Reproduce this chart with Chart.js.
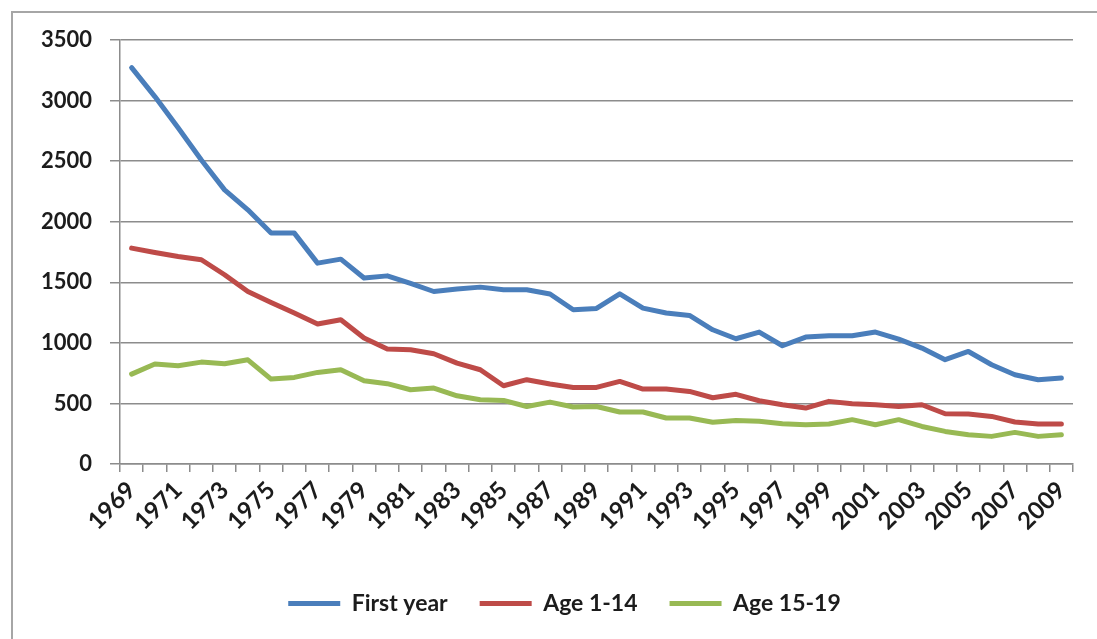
<!DOCTYPE html>
<html>
<head>
<meta charset="utf-8">
<script src="https://cdn.jsdelivr.net/npm/chart.js@4/dist/chart.umd.min.js"></script>
<style>
  html, body { margin: 0; padding: 0; background: #ffffff; }
  #wrap { position: relative; width: 1097px; height: 639px; overflow: hidden; }
  #frame { position: absolute; left: 11px; top: 11px; width: 1200px; height: 800px;
           border-left: 2px solid #a6a6a6; border-top: 2px solid #a6a6a6; }
  canvas { position: absolute; left: 0; top: 0; }
</style>
</head>
<body>
<div id="wrap">
  <div id="frame"></div>
  <canvas id="chart" width="1097" height="639"></canvas>
</div>
<script>
// Years on the category axis
const years = [
  1969, 1970, 1971, 1972, 1973, 1974, 1975, 1976, 1977, 1978,
  1979, 1980, 1981, 1982, 1983, 1984, 1985, 1986, 1987, 1988,
  1989, 1990, 1991, 1992, 1993, 1994, 1995, 1996, 1997, 1998,
  1999, 2000, 2001, 2002, 2003, 2004, 2005, 2006, 2007, 2008, 2009
];

// Deaths per year, by age group
const firstYear = [
  3272, 3033, 2775, 2510, 2263, 2098, 1906, 1906, 1658, 1691,
  1535, 1553, 1490, 1424, 1444, 1460, 1438, 1438, 1403, 1273,
  1284, 1405, 1287, 1246, 1226, 1108, 1034, 1089, 976, 1048,
  1059, 1059, 1089, 1031, 957, 861, 929, 819, 737, 696, 710
];
const age1to14 = [
  1782, 1746, 1713, 1686, 1562, 1424, 1333, 1246, 1155, 1191,
  1040, 949, 943, 910, 833, 778, 646, 696, 660, 632,
  632, 682, 619, 619, 599, 547, 575, 522, 489, 462,
  517, 498, 489, 475, 489, 415, 412, 393, 347, 330, 330
];
const age15to19 = [
  742, 825, 811, 841, 828, 860, 701, 715, 756, 778,
  687, 663, 613, 627, 563, 530, 525, 475, 511, 470,
  475, 429, 429, 380, 380, 344, 360, 352, 333, 324,
  330, 366, 324, 366, 310, 269, 242, 228, 261, 228, 242
];

// Series names and colours
const seriesNames = ['First year', 'Age 1-14', 'Age 15-19'];
const seriesColors = ['#4a7ebb', '#be4b48', '#98b954'];

// Value axis ticks
const yMin = 0, yMax = 3500, yStep = 500;

const textColor = '#1c1c1c';
const gridColor = '#8c8c8c';
const yTickFont = { family: 'Lato', weight: 'bold', size: 22 };
const xTickFont = { family: 'Lato', weight: 'bold', size: 24 };
const legendFont = { family: 'Lato', weight: 'bold', size: 23 };

const seriesData = [firstYear, age1to14, age15to19];

// Moves the legend row sideways so it sits under the middle of the figure
const legendShift = {
  id: 'legendShift',
  afterLayout(chart, args, opts) {
    const lg = chart.legend;
    if (lg) { lg.left += opts.dx; lg.right += opts.dx; }
  }
};

new Chart(document.getElementById('chart'), {
  type: 'line',
  data: {
    labels: years.map(String),
    datasets: seriesData.map((values, i) => ({
      label: seriesNames[i],
      data: values,
      borderColor: seriesColors[i],
      backgroundColor: seriesColors[i],
      borderWidth: 5,
      pointRadius: 0,
      tension: 0,
      borderJoinStyle: 'round',
      borderCapStyle: 'round'
    }))
  },
  plugins: [legendShift],
  options: {
    responsive: false,
    animation: false,
    events: [],
    layout: { padding: { left: 0, right: 24, top: 40, bottom: 14 } },
    scales: {
      x: {
        offset: true,
        grid: {
          offset: true,
          drawOnChartArea: false,
          drawTicks: true,
          tickLength: 8,
          color: gridColor,
          lineWidth: 1.5
        },
        border: { color: gridColor, width: 1.5 },
        ticks: {
          autoSkip: false,
          minRotation: 45,
          maxRotation: 45,
          padding: 4,
          color: textColor,
          font: xTickFont,
          callback: function (value, index) {
            return index % 2 === 0 ? this.getLabelForValue(value) : '';
          }
        },
        afterFit: (scale) => { scale.height = 96; }
      },
      y: {
        min: yMin,
        max: yMax,
        ticks: {
          stepSize: yStep,
          padding: 18,
          color: textColor,
          font: yTickFont,
          callback: (value) => String(value)
        },
        grid: { color: gridColor, lineWidth: 1.5, tickLength: 10 },
        border: { color: gridColor, width: 1.5 },
        afterFit: (scale) => { scale.width = 120; }
      }
    },
    plugins: {
      tooltip: { enabled: false },
      legendShift: { dx: 28 },
      legend: {
        position: 'bottom',
        labels: {
          usePointStyle: true,
          pointStyle: 'line',
          pointStyleWidth: 52,
          padding: 32,
          color: textColor,
          font: legendFont
        }
      }
    }
  }
});
</script>
</body>
</html>
